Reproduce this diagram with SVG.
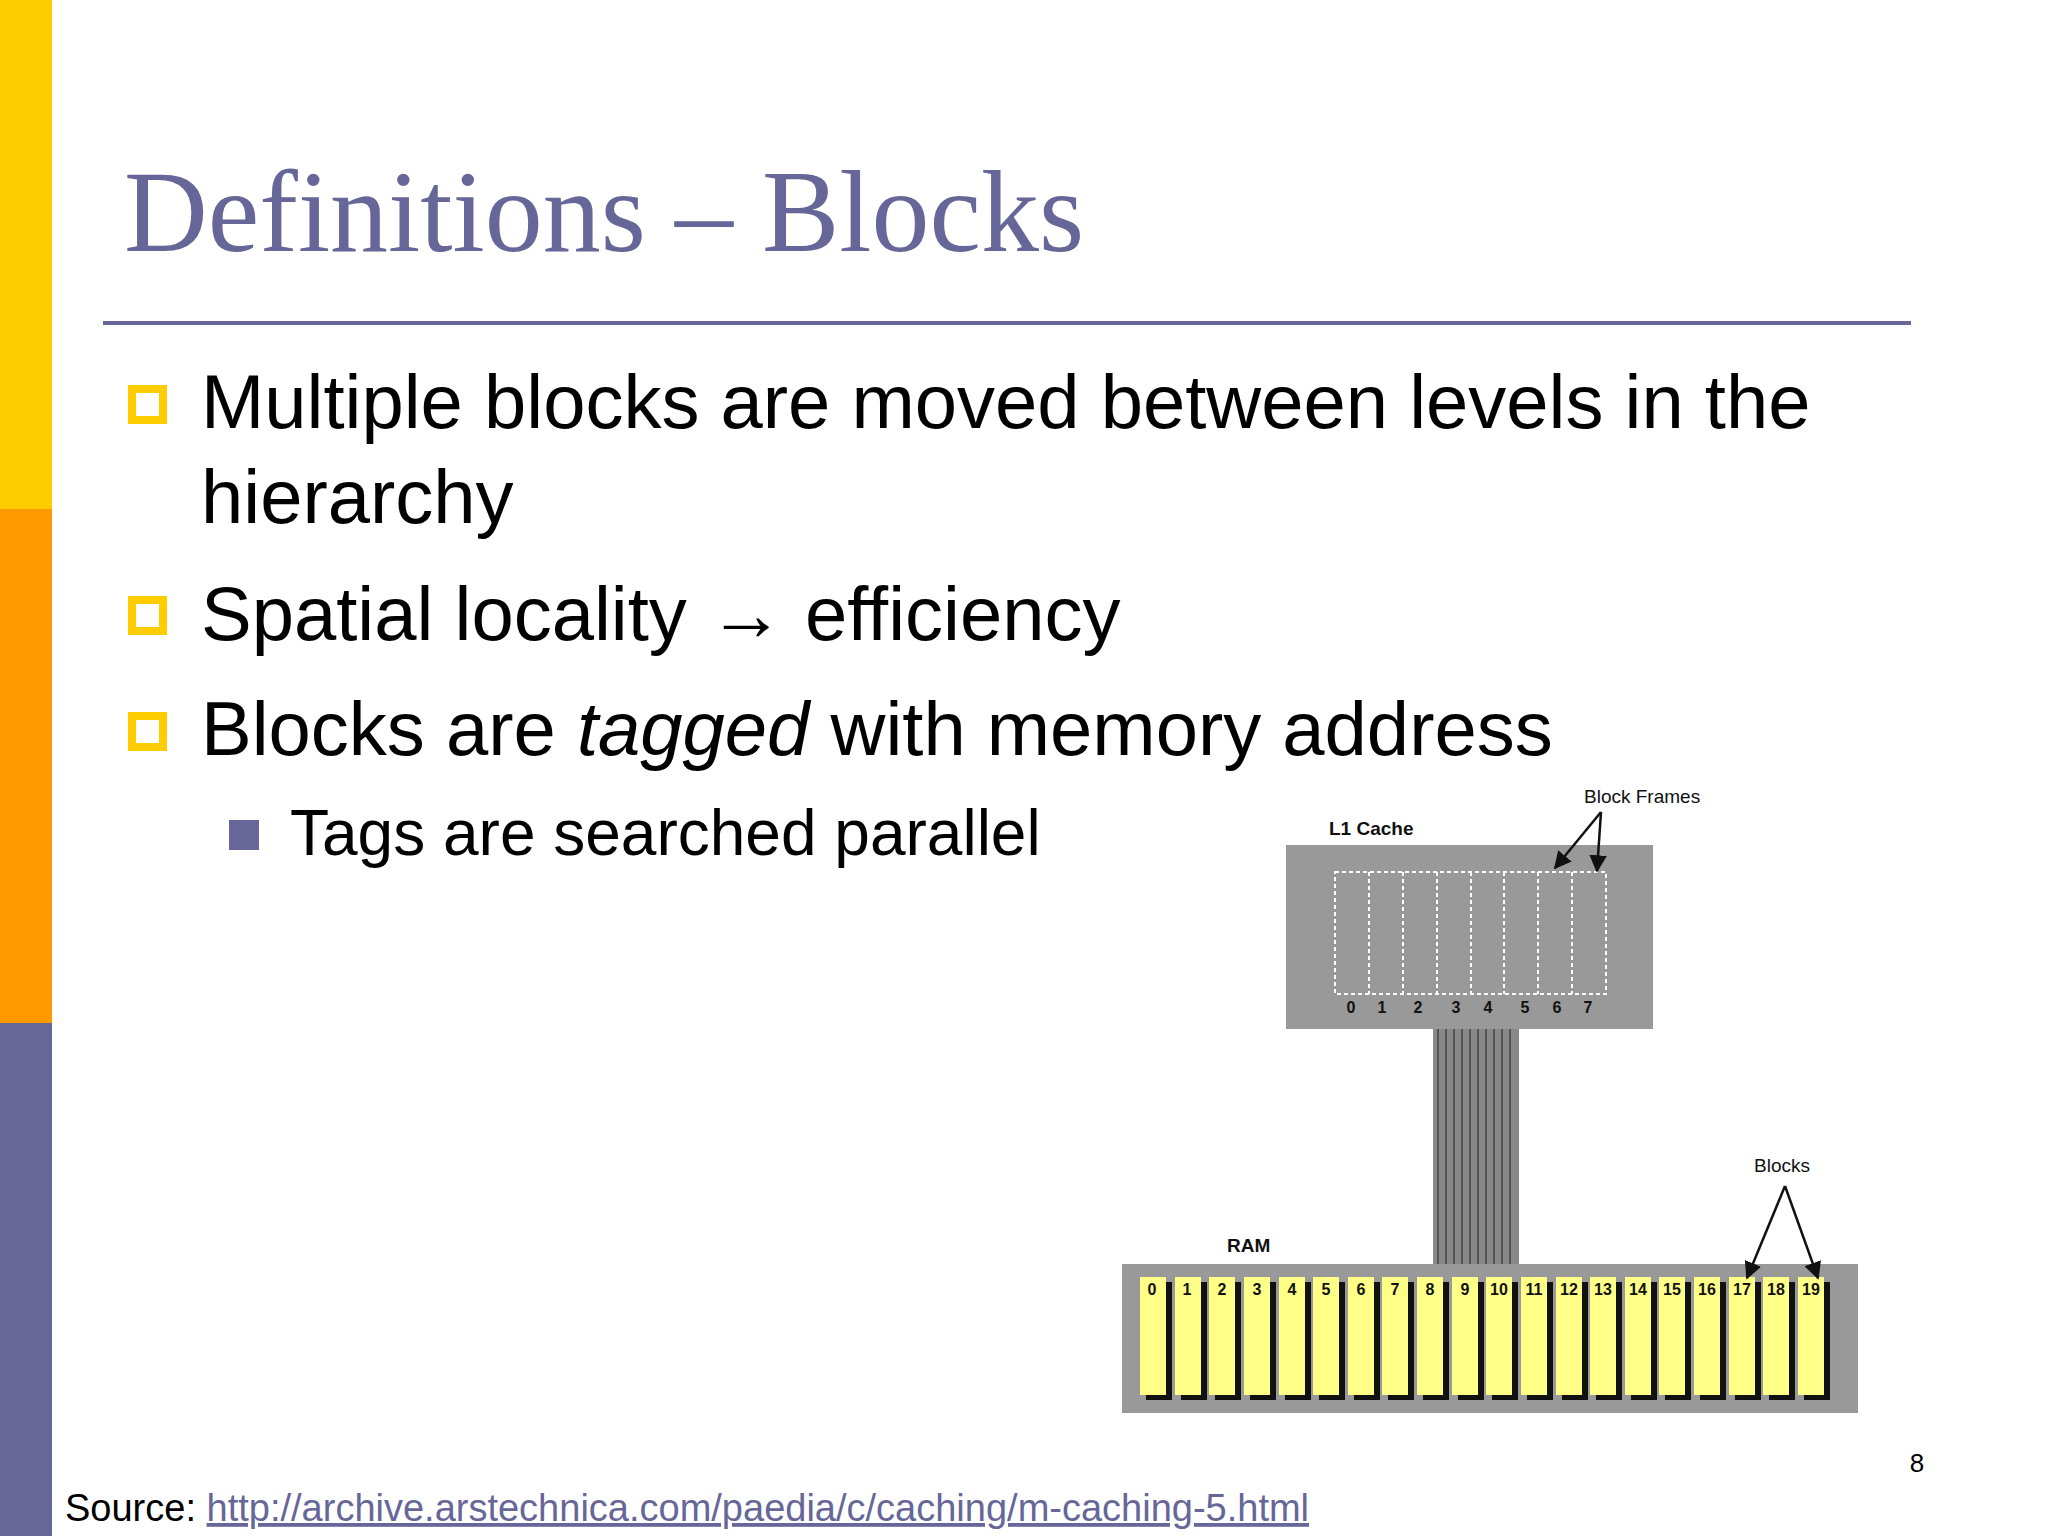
<svg xmlns="http://www.w3.org/2000/svg" width="2048" height="1536" viewBox="0 0 2048 1536">
<defs>
<style>
.s{font-family:"Liberation Sans",Arial,sans-serif}
.b{font-size:76px;fill:#000}
.sm{font-size:19px;fill:#111}
.num{font-size:16px;font-weight:bold;fill:#111}
.bul{fill:none;stroke:#FFCC00;stroke-width:8}
.bar{fill:#FFFF88}
.sh{fill:#111}
</style>
<marker id="ah" viewBox="0 0 10 10" refX="9" refY="5" markerWidth="7" markerHeight="7" orient="auto"><path d="M0,0 L10,5 L0,10 z" fill="#111"/></marker>
</defs>
<rect width="2048" height="1536" fill="#fff"/>
<rect x="0" y="0" width="52" height="509" fill="#FFCC00"/>
<rect x="0" y="509" width="52" height="514" fill="#FF9900"/>
<rect x="0" y="1023" width="52" height="513" fill="#666699"/>
<text x="124" y="251" font-family="'Liberation Serif','Times New Roman',serif" font-size="116" fill="#666699">Definitions – Blocks</text>
<line x1="103" y1="323" x2="1911" y2="323" stroke="#666699" stroke-width="4"/>
<g id="bullets">
<rect class="bul" x="132" y="389" width="31" height="31"/>
<text class="s b" x="201" y="428">Multiple blocks are moved between levels in the</text>
<text class="s b" x="201" y="523">hierarchy</text>
<rect class="bul" x="132" y="600" width="31" height="31"/>
<text class="s b" x="201" y="640">Spatial locality → efficiency</text>
<rect class="bul" x="132" y="716" width="31" height="31"/>
<text class="s b" x="201" y="755">Blocks are <tspan font-style="italic">tagged</tspan> with memory address</text>
<rect x="229" y="820" width="30" height="30" fill="#666699"/>
<text class="s" x="290" y="855" font-size="64">Tags are searched parallel</text>
</g>
<g id="bus">
<rect x="1433" y="1029" width="86" height="235" fill="#888"/>
<g stroke="#555" stroke-width="2">
<line x1="1438" y1="1029" x2="1438" y2="1264"/><line x1="1446" y1="1029" x2="1446" y2="1264"/><line x1="1454" y1="1029" x2="1454" y2="1264"/><line x1="1462" y1="1029" x2="1462" y2="1264"/><line x1="1470" y1="1029" x2="1470" y2="1264"/><line x1="1478" y1="1029" x2="1478" y2="1264"/><line x1="1486" y1="1029" x2="1486" y2="1264"/><line x1="1494" y1="1029" x2="1494" y2="1264"/><line x1="1502" y1="1029" x2="1502" y2="1264"/><line x1="1510" y1="1029" x2="1510" y2="1264"/>
</g>
</g>
<g id="l1cache">
<rect x="1286" y="845" width="367" height="184" fill="#999"/>
<g fill="none" stroke="#fff" stroke-width="2" stroke-dasharray="4,3">
<rect x="1335" y="872" width="271" height="122"/>
<path d="M1369,872V994M1403,872V994M1437,872V994M1471,872V994M1504,872V994M1538,872V994M1572,872V994"/>
</g>
<g class="s num" text-anchor="middle">
<text x="1351" y="1013">0</text><text x="1382" y="1013">1</text><text x="1418" y="1013">2</text><text x="1456" y="1013">3</text><text x="1488" y="1013">4</text><text x="1525" y="1013">5</text><text x="1557" y="1013">6</text><text x="1588" y="1013">7</text>
</g>
<text class="s sm" x="1329" y="835" font-weight="bold" font-size="18">L1 Cache</text>
<text class="s sm" x="1584" y="803">Block Frames</text>
</g>
<g id="ram">
<rect x="1122" y="1264" width="736" height="149" fill="#999"/>
<text class="s sm" x="1227" y="1252" font-weight="bold" font-size="18">RAM</text>
<g id="blocks"></g>
</g>
<g id="rambars">
<g class="sh">
<rect x="1146" y="1282" width="26" height="118"/><rect x="1181" y="1282" width="26" height="118"/><rect x="1215" y="1282" width="26" height="118"/><rect x="1250" y="1282" width="26" height="118"/><rect x="1285" y="1282" width="26" height="118"/><rect x="1319" y="1282" width="26" height="118"/><rect x="1354" y="1282" width="26" height="118"/><rect x="1388" y="1282" width="26" height="118"/><rect x="1423" y="1282" width="26" height="118"/><rect x="1458" y="1282" width="26" height="118"/><rect x="1492" y="1282" width="26" height="118"/><rect x="1527" y="1282" width="26" height="118"/><rect x="1562" y="1282" width="26" height="118"/><rect x="1596" y="1282" width="26" height="118"/><rect x="1631" y="1282" width="26" height="118"/><rect x="1665" y="1282" width="26" height="118"/><rect x="1700" y="1282" width="26" height="118"/><rect x="1735" y="1282" width="26" height="118"/><rect x="1769" y="1282" width="26" height="118"/><rect x="1804" y="1282" width="26" height="118"/>
</g>
<g class="bar">
<rect x="1140" y="1277" width="26" height="118"/><rect x="1175" y="1277" width="26" height="118"/><rect x="1209" y="1277" width="26" height="118"/><rect x="1244" y="1277" width="26" height="118"/><rect x="1279" y="1277" width="26" height="118"/><rect x="1313" y="1277" width="26" height="118"/><rect x="1348" y="1277" width="26" height="118"/><rect x="1382" y="1277" width="26" height="118"/><rect x="1417" y="1277" width="26" height="118"/><rect x="1452" y="1277" width="26" height="118"/><rect x="1486" y="1277" width="26" height="118"/><rect x="1521" y="1277" width="26" height="118"/><rect x="1556" y="1277" width="26" height="118"/><rect x="1590" y="1277" width="26" height="118"/><rect x="1625" y="1277" width="26" height="118"/><rect x="1659" y="1277" width="26" height="118"/><rect x="1694" y="1277" width="26" height="118"/><rect x="1729" y="1277" width="26" height="118"/><rect x="1763" y="1277" width="26" height="118"/><rect x="1798" y="1277" width="26" height="118"/>
</g>
<g class="s num" font-size="15" text-anchor="middle">
<text x="1152" y="1295">0</text><text x="1187" y="1295">1</text><text x="1222" y="1295">2</text><text x="1257" y="1295">3</text><text x="1292" y="1295">4</text><text x="1326" y="1295">5</text><text x="1361" y="1295">6</text><text x="1395" y="1295">7</text><text x="1430" y="1295">8</text><text x="1465" y="1295">9</text><text x="1499" y="1295">10</text><text x="1534" y="1295">11</text><text x="1569" y="1295">12</text><text x="1603" y="1295">13</text><text x="1638" y="1295">14</text><text x="1672" y="1295">15</text><text x="1707" y="1295">16</text><text x="1742" y="1295">17</text><text x="1776" y="1295">18</text><text x="1811" y="1295">19</text>
</g>
<text class="s sm" x="1754" y="1172">Blocks</text>
</g>
<g id="connectors" stroke="#111" stroke-width="2.5" fill="none" marker-end="url(#ah)">
<line x1="1601" y1="812" x2="1555" y2="868"/>
<line x1="1601" y1="812" x2="1597" y2="871"/>
<line x1="1785" y1="1186" x2="1747" y2="1278"/>
<line x1="1785" y1="1186" x2="1818" y2="1278"/>
</g>
<text class="s" x="1917" y="1472" font-size="26" text-anchor="middle">8</text>
<text class="s" x="65" y="1521" font-size="38">Source: <tspan fill="#666699" text-decoration="underline">http://archive.arstechnica.com/paedia/c/caching/m-caching-5.html</tspan></text>
</svg>
